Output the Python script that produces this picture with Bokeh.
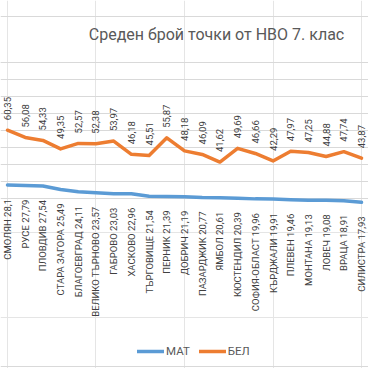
from math import pi
from bokeh.plotting import figure
from bokeh.models import (ColumnDataSource, Range1d, Grid, FixedTicker, Label,
                          Span, Legend)
from bokeh.core.properties import value
from bokeh.embed import file_html
from bokeh.resources import INLINE

# ---- data -------------------------------------------------------------
regions = ["СМОЛЯН", "РУСЕ", "ПЛОВДИВ", "СТАРА ЗАГОРА", "БЛАГОЕВГРАД",
           "ВЕЛИКО ТЪРНОВО", "ГАБРОВО", "ХАСКОВО", "ТЪРГОВИЩЕ", "ПЕРНИК",
           "ДОБРИЧ", "ПАЗАРДЖИК", "ЯМБОЛ", "КЮСТЕНДИЛ", "СОФИЯ-ОБЛАСТ",
           "КЪРДЖАЛИ", "ПЛЕВЕН", "МОНТАНА", "ЛОВЕЧ", "ВРАЦА", "СИЛИСТРА"]
mat = [28.1, 27.79, 27.54, 25.49, 24.11, 23.57, 23.03, 22.96, 21.54, 21.39,
       21.19, 20.77, 20.61, 20.39, 19.96, 19.91, 19.46, 19.13, 19.08, 18.91,
       17.93]
bel = [60.35, 56.08, 54.33, 49.35, 52.57, 52.38, 53.97, 46.18, 45.51, 55.87,
       48.18, 46.09, 41.62, 49.69, 46.66, 42.29, 47.97, 47.25, 44.88, 47.74,
       43.87]
grid_ticks = [20, 30, 40, 50, 60, 70, 80, 90, 100]
title_text = "Среден брой точки от НВО 7. клас"
series_names = ["МАТ", "БЕЛ"]


def fmt(v):
    return f"{v:g}".replace(".", ",")


src = ColumnDataSource(dict(
    x=list(range(len(regions))),
    mat=mat,
    bel=bel,
    mat_lbl=[f"{r} {fmt(v)}" for r, v in zip(regions, mat)],
    bel_lbl=[fmt(v) for v in bel],
))

FONT = "Roboto"
GRAY = "#595959"
LBL = "#404040"
BLUE = "#5b9bd5"
ORANGE = "#ed7d31"

p = figure(width=368, height=368, output_backend="svg", toolbar_location=None,
           x_range=Range1d(-0.395, 20.395), y_range=Range1d(-79.82, 136.65),
           x_axis_location=None, y_axis_location=None, title_location=None,
           min_border=0)
p.outline_line_color = None
p.background_fill_color = "white"
p.border_fill_color = "white"

p.add_layout(Grid(dimension=1, ticker=FixedTicker(ticks=grid_ticks),
                  grid_line_color="#d9d9d9", grid_line_width=1))

# chart area border lines (top / bottom)
p.add_layout(Span(location=352, location_units="screen", dimension="width",
                  line_color="#d9d9d9", line_width=1))
p.add_layout(Span(location=2, location_units="screen", dimension="width",
                  line_color="#d9d9d9", line_width=1))

r_mat = p.line("x", "mat", source=src, line_color=BLUE, line_width=3.5,
               line_join="round", line_cap="round")
r_bel = p.line("x", "bel", source=src, line_color=ORANGE, line_width=3.5,
               line_join="round", line_cap="round")

p.text("x", "bel", text="bel_lbl", source=src, angle=pi / 2,
       text_align="left", text_baseline="middle", y_offset=-10,
       text_font=value(FONT), text_font_size="9.5px", text_color=LBL)
p.text("x", "mat", text="mat_lbl", source=src, angle=pi / 2,
       text_align="right", text_baseline="middle", y_offset=14,
       text_font=value(FONT), text_font_size="9.5px", text_color=LBL)

p.add_layout(Label(x=216, y=334, x_units="screen", y_units="screen",
                   text=title_text, text_align="center",
                   text_baseline="middle", text_font=FONT,
                   text_font_size="16px", text_color=GRAY))

legend = Legend(items=[(series_names[0], [r_mat]), (series_names[1], [r_bel])],
                orientation="horizontal", location=(137, 9),
                border_line_color=None, background_fill_alpha=0,
                glyph_width=27, glyph_height=16, label_height=16,
                label_standoff=2, spacing=9, padding=0, margin=0,
                label_text_font=FONT, label_text_font_size="11.5px",
                label_text_color=GRAY)
p.add_layout(legend)

open("out.html", "w").write(file_html(p, INLINE))
